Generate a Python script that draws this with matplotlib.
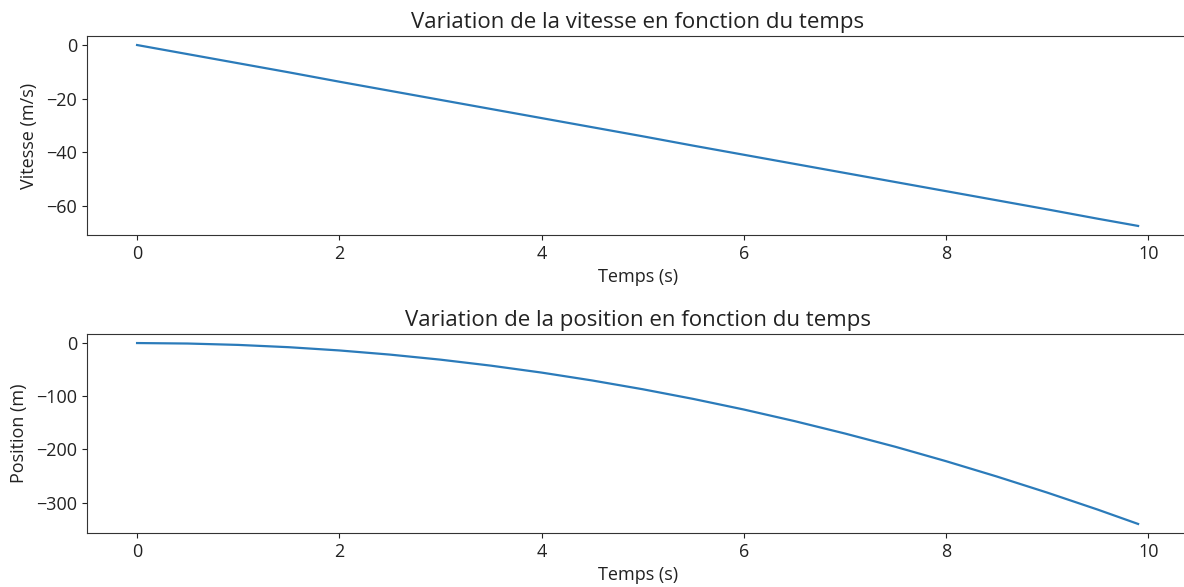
import matplotlib.pyplot as plt

plt.rcParams['font.family'] = ['Open Sans', 'DejaVu Sans']
plt.rcParams['text.color'] = '#222222'
plt.rcParams['axes.labelcolor'] = '#222222'
plt.rcParams['xtick.color'] = '#222222'
plt.rcParams['ytick.color'] = '#222222'
plt.rcParams['axes.edgecolor'] = '#333333'

# temps (s) et valeurs
temps = [0, 0.5, 1, 1.5, 2, 2.5, 3, 3.5, 4, 4.5, 5, 5.5, 6, 6.5, 7, 7.5, 8, 8.5, 9, 9.5, 9.9]
vitesse = [0, -3.4, -6.8, -10.2, -13.7, -17.1, -20.5, -23.9, -27.3, -30.7, -34.1,
           -37.6, -41.0, -44.4, -47.8, -51.2, -54.6, -58.0, -61.4, -64.9, -67.6]
position = [0, -0.9, -3.5, -7.8, -13.9, -21.7, -31.2, -42.5, -55.5, -70.3, -86.8,
            -105.0, -124.9, -146.6, -170.0, -195.0, -222.0, -250.7, -281.0, -313.0, -340.0]

fig = plt.figure(figsize=(11.84, 5.87), dpi=100)

# axes un peu plus larges que l'image (bord droit coupe comme dans l'original)
ax1 = fig.add_axes([0.0735, 0.5997, 0.930, 0.339])
ax2 = fig.add_axes([0.0735, 0.092, 0.930, 0.339])

ax1.plot(temps, vitesse, color='#2b7bba', linewidth=1.6)
ax1.set_title("Variation de la vitesse en fonction du temps", fontsize=16)
ax1.set_xlabel("Temps (s)", fontsize=13)
ax1.set_ylabel("Vitesse (m/s)", fontsize=13, labelpad=6)

ax2.plot(temps, position, color='#2b7bba', linewidth=1.6)
ax2.set_title("Variation de la position en fonction du temps", fontsize=16)
ax2.set_xlabel("Temps (s)", fontsize=13)
ax2.set_ylabel("Position (m)", fontsize=13, labelpad=6)

for ax in (ax1, ax2):
    ax.tick_params(labelsize=13)
    ax.set_xticks([0, 2, 4, 6, 8, 10])

plt.savefig('out.png', dpi=100)
plt.close()
